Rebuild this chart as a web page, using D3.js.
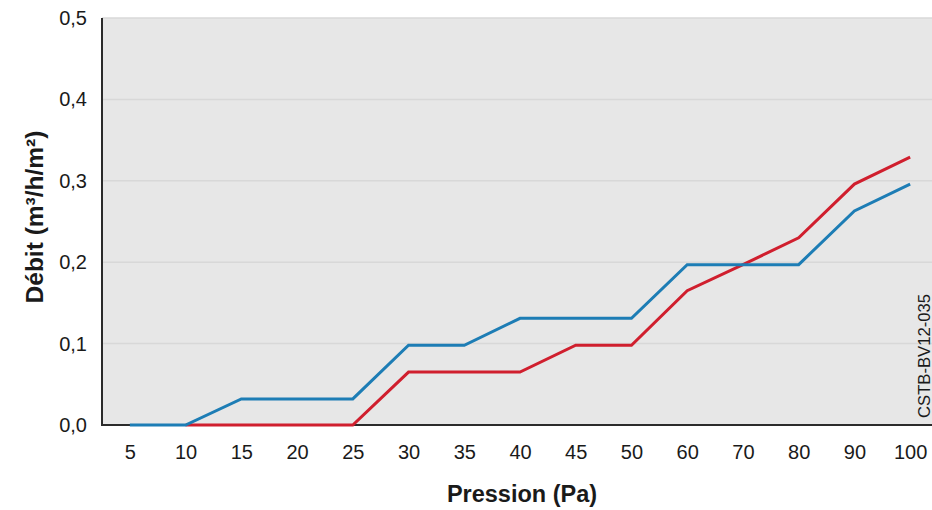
<!DOCTYPE html>
<html>
<head>
<meta charset="utf-8">
<script src="https://cdn.jsdelivr.net/npm/d3@7"></script>
<style>
  body { margin: 0; background: #fff; }
  svg text { font-family: "Liberation Sans", Arial, sans-serif; }
</style>
</head>
<body>
<div id="chart"></div>
<script>
// catégories de pression (Pa)
const pressions = ["5", "10", "15", "20", "25", "30", "35", "40", "45", "50", "60", "70", "80", "90", "100"];
// débit (m³/h/m²) - courbe bleue
const debitBleu = [0, 0, 0.032, 0.032, 0.032, 0.098, 0.098, 0.131, 0.131, 0.131, 0.197, 0.197, 0.197, 0.263, 0.296];
// débit (m³/h/m²) - courbe rouge (pas de valeur à 5 Pa)
const debitRouge = [null, 0, 0, 0, 0, 0.065, 0.065, 0.065, 0.098, 0.098, 0.165, 0.197, 0.23, 0.296, 0.329];
const yTicks = [0, 0.1, 0.2, 0.3, 0.4, 0.5];

const W = 932, H = 510;
const m = { left: 102, top: 18, bottom: 425, right: 932 };

const svg = d3.select("#chart").append("svg")
    .attr("width", W)
    .attr("height", H);

const x = d3.scalePoint()
    .domain(pressions)
    .range([m.left, m.right + 6])
    .padding(0.5);

const y = d3.scaleLinear()
    .domain([0, 0.5])
    .range([m.bottom, m.top]);

// fond gris
svg.append("rect")
    .attr("x", m.left)
    .attr("y", m.top)
    .attr("width", m.right - m.left)
    .attr("height", m.bottom - m.top)
    .attr("fill", "#e7e7e7");

// lignes de grille
svg.append("g")
    .selectAll("line")
    .data(yTicks.filter(d => d > 0))
    .enter()
    .append("line")
    .attr("x1", m.left)
    .attr("x2", m.right)
    .attr("y1", d => y(d))
    .attr("y2", d => y(d))
    .attr("stroke", "#d8d8d8")
    .attr("stroke-width", 1.5);

// axe Y
const yAxis = svg.append("g")
    .attr("transform", `translate(${m.left},0)`)
    .call(d3.axisLeft(y).tickValues(yTicks).tickSize(0).tickPadding(15)
        .tickFormat(d => d3.format(".1f")(d).replace(".", ",")));
yAxis.select(".domain").remove();
yAxis.selectAll("text")
    .attr("font-size", 20)
    .attr("fill", "#1a1a1a");

// axe X
const xAxis = svg.append("g")
    .attr("transform", `translate(0,${m.bottom})`)
    .call(d3.axisBottom(x).tickSize(0).tickPadding(20));
xAxis.select(".domain").remove();
xAxis.selectAll("text")
    .attr("font-size", 20)
    .attr("fill", "#1a1a1a");

// traits des axes
svg.append("line")
    .attr("x1", m.left).attr("x2", m.left)
    .attr("y1", m.top).attr("y2", m.bottom + 1)
    .attr("stroke", "#2b2b2b")
    .attr("stroke-width", 2);
svg.append("line")
    .attr("x1", m.left - 1).attr("x2", m.right)
    .attr("y1", m.bottom).attr("y2", m.bottom)
    .attr("stroke", "#2b2b2b")
    .attr("stroke-width", 2);

// courbes
const line = d3.line()
    .defined(d => d != null)
    .x((d, i) => x(pressions[i]))
    .y(d => y(d));

svg.append("path")
    .datum(debitRouge)
    .attr("fill", "none")
    .attr("stroke", "#d01f2e")
    .attr("stroke-width", 3)
    .attr("d", line);

svg.append("path")
    .datum(debitBleu)
    .attr("fill", "none")
    .attr("stroke", "#1d7db5")
    .attr("stroke-width", 3)
    .attr("d", line);

// titres des axes
svg.append("text")
    .attr("x", 522)
    .attr("y", 502)
    .attr("text-anchor", "middle")
    .attr("font-size", 23.5)
    .attr("font-weight", "bold")
    .attr("fill", "#1a1a1a")
    .text("Pression (Pa)");

svg.append("text")
    .attr("transform", "translate(43,217) rotate(-90)")
    .attr("text-anchor", "middle")
    .attr("font-size", 24.5)
    .attr("font-weight", "bold")
    .attr("fill", "#1a1a1a")
    .text("Débit (m³/h/m²)");

// référence
svg.append("text")
    .attr("transform", "translate(930,356) rotate(-90)")
    .attr("text-anchor", "middle")
    .attr("font-size", 16)
    .attr("textLength", 124)
    .attr("lengthAdjust", "spacingAndGlyphs")
    .attr("fill", "#1a1a1a")
    .text("CSTB-BV12-035");
</script>
</body>
</html>
